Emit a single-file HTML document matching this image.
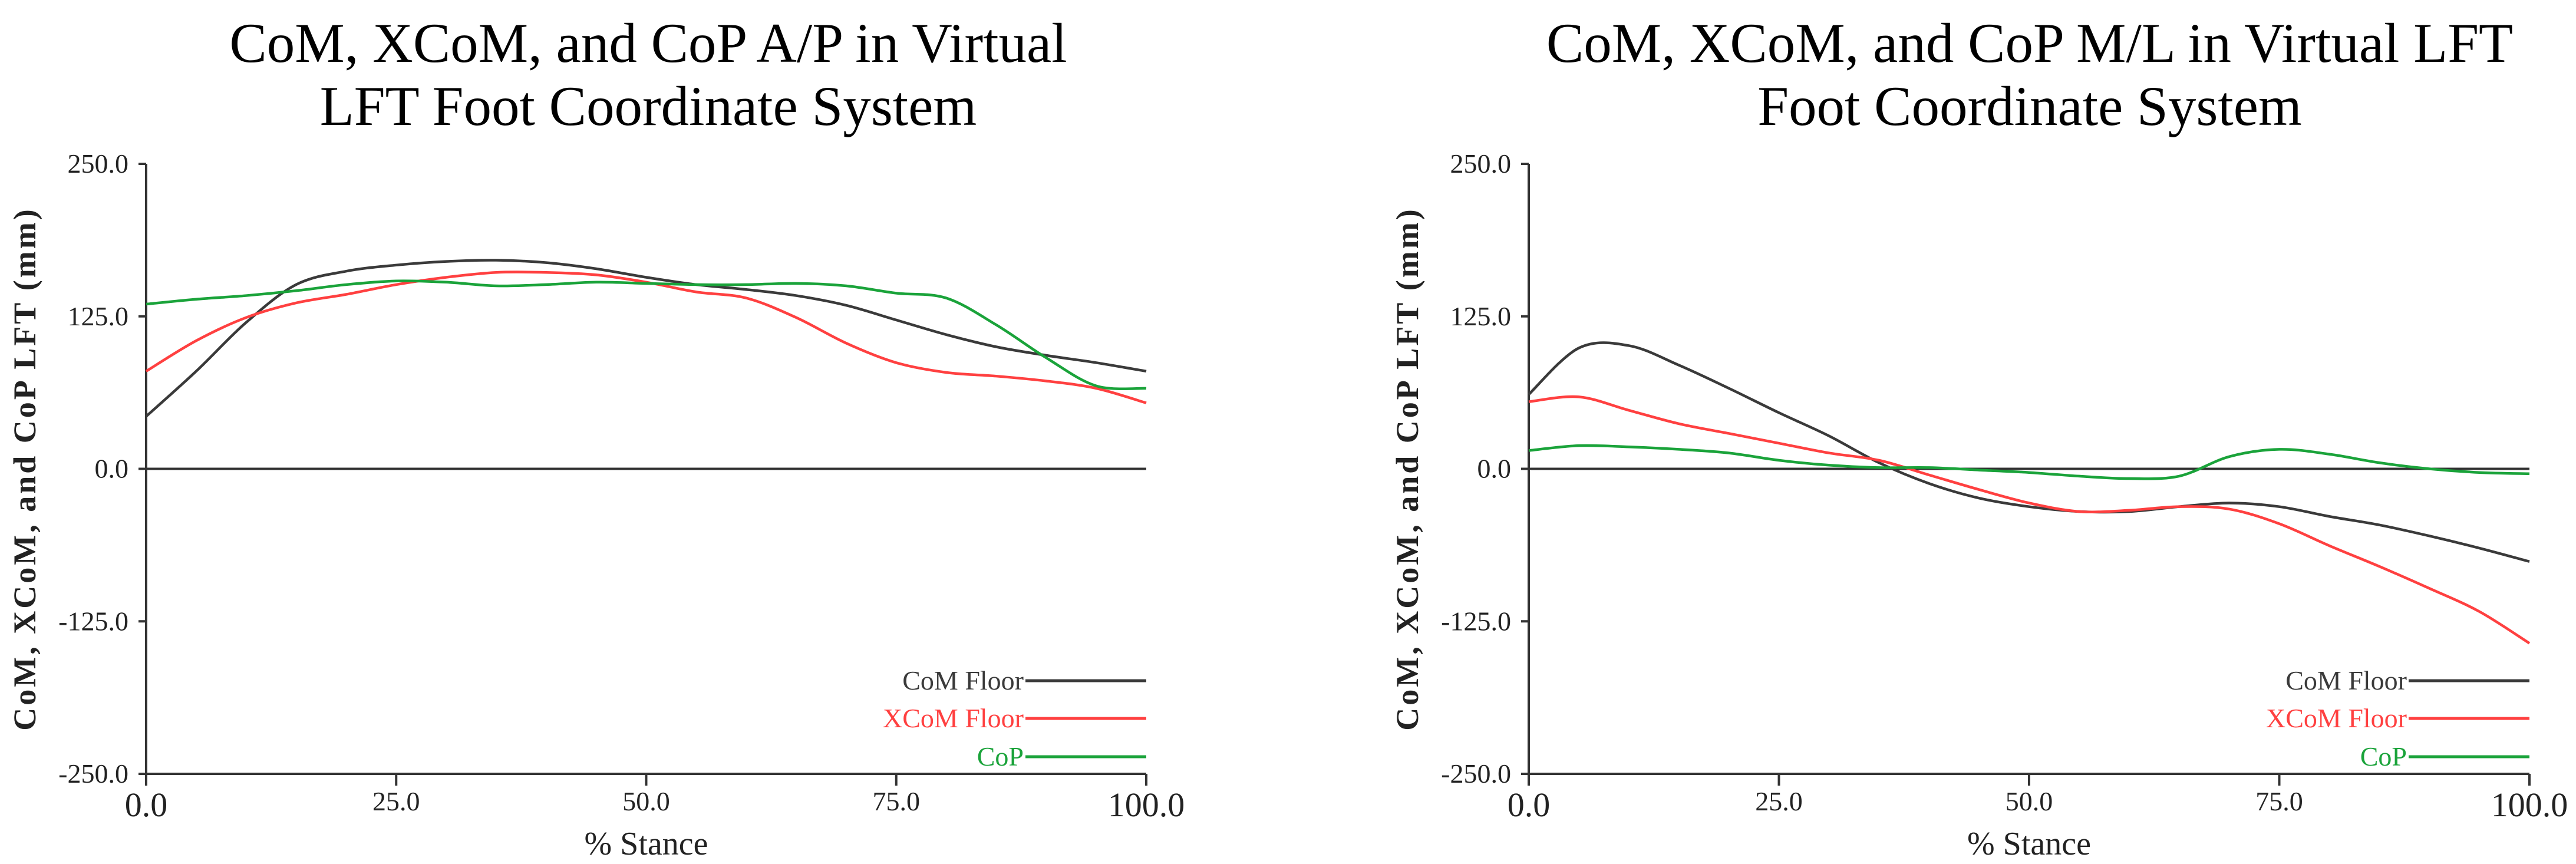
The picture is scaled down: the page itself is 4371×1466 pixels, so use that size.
<!DOCTYPE html>
<html><head><meta charset="utf-8">
<style>
html,body{margin:0;padding:0;background:#fff;}
svg{display:block;}
text{font-family:"Liberation Serif",serif;}
</style></head>
<body>
<svg id="fig" width="4371" height="1466" viewBox="0 0 4371 1466" xmlns="http://www.w3.org/2000/svg">
<text x="1100" y="105" font-size="95" text-anchor="middle">CoM, XCoM, and CoP A/P in Virtual</text>
<text x="1100" y="212" font-size="95" text-anchor="middle">LFT Foot Coordinate System</text>
<text x="3444" y="105" font-size="95" text-anchor="middle">CoM, XCoM, and CoP M/L in Virtual LFT</text>
<text x="3444" y="212" font-size="95" text-anchor="middle">Foot Coordinate System</text>
<g id="left"></g>
<g id="right"></g>
</svg>
<script>
const xs = [0,5,10,15,20,25,30,35,40,45,50,55,60,65,70,75,80,85,90,95,100];
const yTicks = [250,125,0,-125,-250];
const yTickLabels = ["250.0","125.0","0.0","-125.0","-250.0"];
const xTicks = [0,25,50,75,100];
const xTickLabels = ["0.0","25.0","50.0","75.0","100.0"];
const legendLabels = ["CoM Floor","XCoM Floor","CoP"];
// Left chart (A/P)
const apCoM  = [43,80,120,151,162,167,170,171,169,164,157,151,147,142,134,122,110,100,93,87,80];
const apXCoM = [80,105,124,136,143,151,157,161,161,159,153,145,140,124,103,87,79,76,72,66,54];
const apCoP  = [135,139,142,146,151,154,153,150,151,153,152,151,151,152,150,144,140,118,91,68,66];
// Right chart (M/L)
const mlCoM  = [61,99,101,85,66,46,27,5,-12,-24,-31,-35,-35,-31,-28,-31,-39,-46,-55,-65,-76];
const mlXCoM = [55,59,48,37,29,21,13,7,-5,-17,-28,-35,-34,-31,-33,-45,-63,-80,-98,-117,-143];
const mlCoP  = [15,19,18,16,13,7,3,1,1,-1,-3,-6,-8,-6,10,16,12,5,0,-3,-4];

const NS="http://www.w3.org/2000/svg";
const colors=["#3a3a3a","#ff4040","#1aa33a"];
function mk(tag,attrs,parent){const e=document.createElementNS(NS,tag);for(const k in attrs)e.setAttribute(k,attrs[k]);parent.appendChild(e);return e;}
function smooth(pts){let d="M"+pts[0][0]+","+pts[0][1];for(let i=0;i<pts.length-1;i++){const p0=pts[i-1]||pts[i],p1=pts[i],p2=pts[i+1],p3=pts[i+2]||p2;
const c1=[p1[0]+(p2[0]-p0[0])/6,p1[1]+(p2[1]-p0[1])/6],c2=[p2[0]-(p3[0]-p1[0])/6,p2[1]-(p3[1]-p1[1])/6];
d+=" C"+c1[0]+","+c1[1]+" "+c2[0]+","+c2[1]+" "+p2[0]+","+p2[1];}return d;}
function chart(g,x0,x1,series,prefix){
  const yT=278,yB=1313;
  const sx=v=>x0+(v/100)*(x1-x0);
  const sy=v=>yT+(250-v)/500*(yB-yT);
  const ya=mk("line",{x1:x0,y1:sy(250),x2:x0,y2:yB,stroke:"#333","stroke-width":4},g);
  
  
  const xa=mk("line",{x1:x0,y1:yB,x2:x1,y2:yB,stroke:"#333","stroke-width":4},g);
  
  
  const zl=mk("line",{x1:x0,y1:sy(0),x2:x1,y2:sy(0),stroke:"#333","stroke-width":4},g);
  
  
  yTicks.forEach((v,i)=>{
    mk("line",{x1:x0-13,y1:sy(v),x2:x0,y2:sy(v),stroke:"#333","stroke-width":4},g);
    const t=mk("text",{x:x0-30,y:sy(v)+15,"font-size":46,"text-anchor":"end",fill:"#222"},g);
    t.textContent=yTickLabels[i];
    
    
  });
  xTicks.forEach((v,i)=>{
    mk("line",{x1:sx(v),y1:yB,x2:sx(v),y2:yB+20,stroke:"#333","stroke-width":4},g);
    const big=(i==0||i==xTicks.length-1);
    const t=mk("text",{x:sx(v),y:big?1385:1375,"font-size":big?58:46,"text-anchor":"middle",fill:"#222"},g);
    t.textContent=xTickLabels[i];
    
    
  });
  const xt=mk("text",{x:(x0+x1)/2,y:1450,"font-size":56,"text-anchor":"middle",fill:"#222"},g);
  xt.textContent="% Stance";
  
  
  const yx=x0-188, yc=(yT+yB)/2;
  const yt=mk("text",{x:yx,y:yc,"font-size":54,"font-weight":"bold","letter-spacing":4,"text-anchor":"middle",fill:"#222",transform:"rotate(-90 "+yx+" "+yc+")"},g);
  yt.textContent="CoM, XCoM, and CoP LFT (mm)";
  
  
  series.forEach((s,k)=>{
    const p=mk("path",{d:smooth(xs.map((x,i)=>[sx(x),sy(s[i])])),fill:"none",stroke:colors[k],"stroke-width":4.5},g);
    
    
  });
  const ly=[1155,1219,1284];
  legendLabels.forEach((lab,k)=>{
    const lx=x1-205;
    const l=mk("line",{x1:lx,y1:ly[k],x2:x1,y2:ly[k],stroke:colors[k],"stroke-width":5},g);
    
    
    const t=mk("text",{x:lx-3,y:ly[k]+15,"font-size":46,"text-anchor":"end",fill:colors[k]},g);
    t.textContent=lab;
    
    
  });
}
chart(document.getElementById("left"),248,1945,[apCoM,apXCoM,apCoP],"left");
chart(document.getElementById("right"),2594,4292,[mlCoM,mlXCoM,mlCoP],"right");
</script>
</body></html>
